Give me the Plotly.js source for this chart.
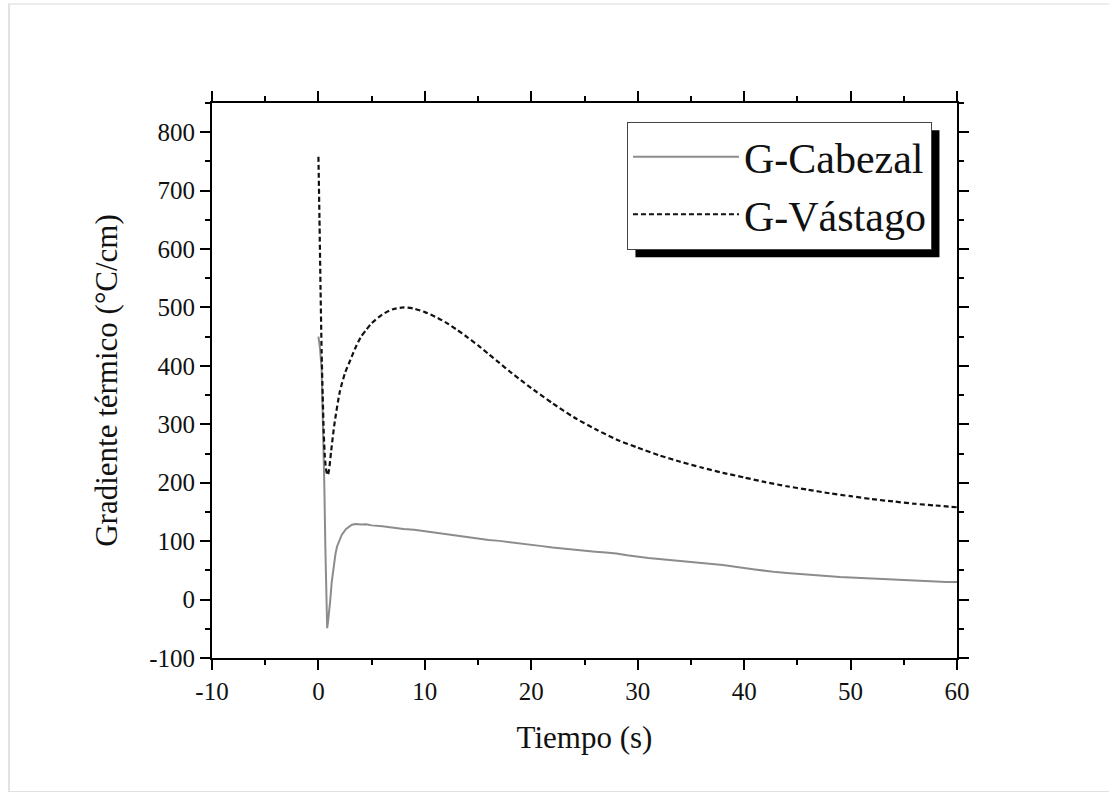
<!DOCTYPE html>
<html>
<head>
<meta charset="utf-8">
<script src="https://cdn.plot.ly/plotly-3.0.1.min.js"></script>
<style>
  html, body { margin: 0; padding: 0; background: #ffffff; }
  #card { position: absolute; left: 8px; top: 3px; width: 1101px; height: 786px;
          border-left: 2px solid #e2e2e2; border-top: 2px solid #ececec; border-bottom: 2px solid #e0e0e0;
          background: #ffffff; }
  #chart { position: absolute; left: 0; top: 0; width: 1109px; height: 792px; }
</style>
</head>
<body>
<div id="card"></div>
<div id="chart"></div>
<script>
// ---- data ----
const timeCabezal = [0, 0.15, 0.3, 0.45, 0.55, 0.65, 0.75, 0.82, 0.9, 1.0, 1.1, 1.25, 1.42, 1.6, 1.75, 2.0, 2.2, 2.6, 3.15, 3.5, 4, 4.5, 5, 6, 7, 8, 9, 10, 11, 12, 13, 14, 15, 16, 17, 18, 19, 20, 21, 22, 23, 24, 25, 26, 27, 28, 29, 30, 31, 32, 33, 34, 35, 36, 37, 38, 39, 40, 41, 42, 43, 44, 45, 46, 47, 48, 49, 50, 51, 52, 53, 54, 55, 56, 57, 58, 59, 60];
const gCabezal = [450, 430, 395, 290, 200, 90, -20, -49, -38, -22, -3, 30, 59, 78, 91, 103, 111, 121, 128, 129.5, 128.5, 129, 127, 125.5, 123, 121, 119.5, 117, 114.5, 111, 108.5, 106.5, 104, 102, 100.5, 98.5, 96, 94, 91.5, 89, 87, 85.5, 84, 82, 80.5, 79, 76, 73, 71, 69.5, 68, 66, 64.5, 63, 61, 59, 57, 54, 51.5, 49, 47, 45.5, 44, 42.5, 41, 40, 38.5, 38, 37, 36.5, 35.5, 34, 33, 32, 31.5, 31, 30, 30];

const timeVastago = [0, 0.1, 0.2, 0.3, 0.4, 0.5, 0.6, 0.7, 0.8, 0.88, 1.0, 1.2, 1.5, 2.0, 2.5, 3.0, 3.5, 4.0, 4.5, 5, 6, 7, 8, 9, 10, 11, 12, 13, 14, 15, 16, 17, 18, 19, 20, 22, 24, 26, 28, 30, 32, 34, 36, 38, 40, 42, 44, 46, 48, 50, 52, 54, 56, 58, 60];
const gVastago = [758, 650, 530, 425, 350, 285, 245, 225, 216, 213, 222, 255, 300, 355, 388, 410, 432, 450, 462, 473, 488, 497, 500, 498, 492, 484, 474, 462, 449, 435, 420, 405, 390, 376, 362, 336, 312, 292, 274, 260, 247, 236, 226, 217, 209, 201, 194, 188, 182, 177, 172, 168, 164, 161, 158];

const xTickVals = [-10, 0, 10, 20, 30, 40, 50, 60];
const xTickText = ["-10", "0", "10", "20", "30", "40", "50", "60"];
const yTickVals = [-100, 0, 100, 200, 300, 400, 500, 600, 700, 800];
const yTickText = ["-100", "0", "100", "200", "300", "400", "500", "600", "700", "800"];

const seriesNames = ["G-Cabezal", "G-V\u00e1stago"];
const xTitle = "Tiempo (s)";
const yTitle = "Gradiente t\u00e9rmico (\u00b0C/cm)";

const FONT = "'Liberation Serif', 'Times New Roman', serif";

const traces = [
  { x: timeCabezal, y: gCabezal, name: seriesNames[0], type: "scatter", mode: "lines",
    line: { color: "#8c8c8c", width: 2 } },
  { x: timeVastago, y: gVastago, name: seriesNames[1], type: "scatter", mode: "lines",
    line: { color: "#111111", width: 2.2, dash: "5px,3px", shape: "spline", smoothing: 0.6 } }
];

const axisCommon = {
  showgrid: false, zeroline: false, showline: true, linecolor: "#000", linewidth: 2,
  mirror: "allticks", ticks: "outside", ticklen: 10, tickwidth: 2, tickcolor: "#000",
  tickfont: { family: FONT, size: 25, color: "#111" }
};

const layout = {
  width: 1109, height: 792,
  paper_bgcolor: "rgba(0,0,0,0)", plot_bgcolor: "#ffffff",
  margin: { l: 212, r: 152, t: 103, b: 134 },
  font: { family: FONT, color: "#111" },
  xaxis: Object.assign({}, axisCommon, {
    range: [-10, 60], tickmode: "array", tickvals: xTickVals, ticktext: xTickText,
    minor: { tick0: -10, dtick: 5, ticks: "outside", ticklen: 5, tickwidth: 2, tickcolor: "#000", showgrid: false },
    title: { text: xTitle, font: { family: FONT, size: 31, color: "#111" }, standoff: 22 }
  }),
  yaxis: Object.assign({}, axisCommon, {
    range: [-100, 850], tickmode: "array", tickvals: yTickVals, ticktext: yTickText,
    minor: { tick0: -100, dtick: 50, ticks: "outside", ticklen: 5, tickwidth: 2, tickcolor: "#000", showgrid: false },
    title: { text: yTitle, font: { family: FONT, size: 31, color: "#111" }, standoff: 22 }
  }),
  showlegend: true,
  legend: {
    x: 0.557, y: 0.966, xanchor: "left", yanchor: "top",
    bgcolor: "#ffffff", bordercolor: "#444", borderwidth: 1,
    font: { family: FONT, size: 42, color: "#111" },
    itemwidth: 106, tracegroupgap: 0
  }
};

const gd = document.getElementById("chart");
Plotly.newPlot(gd, traces, layout, { displayModeBar: false, staticPlot: true }).then(function () {
  const bg = gd.querySelector(".legend .bg");
  if (!bg) return;
  const r = bg.getBoundingClientRect();
  const c = gd.getBoundingClientRect();
  const s = gd._fullLayout._size;
  const px2x = function (px) { return (px - c.left - s.l) / s.w; };
  const px2y = function (py) { return 1 - (py - c.top - s.t) / s.h; };
  const off = 8;
  Plotly.relayout(gd, {
    shapes: [{
      type: "rect", xref: "paper", yref: "paper", layer: "above",
      x0: px2x(r.left + off), x1: px2x(r.right + off),
      y0: px2y(r.bottom + off), y1: px2y(r.top + off),
      fillcolor: "#000", line: { width: 0 }
    }]
  });
});
</script>
</body>
</html>
